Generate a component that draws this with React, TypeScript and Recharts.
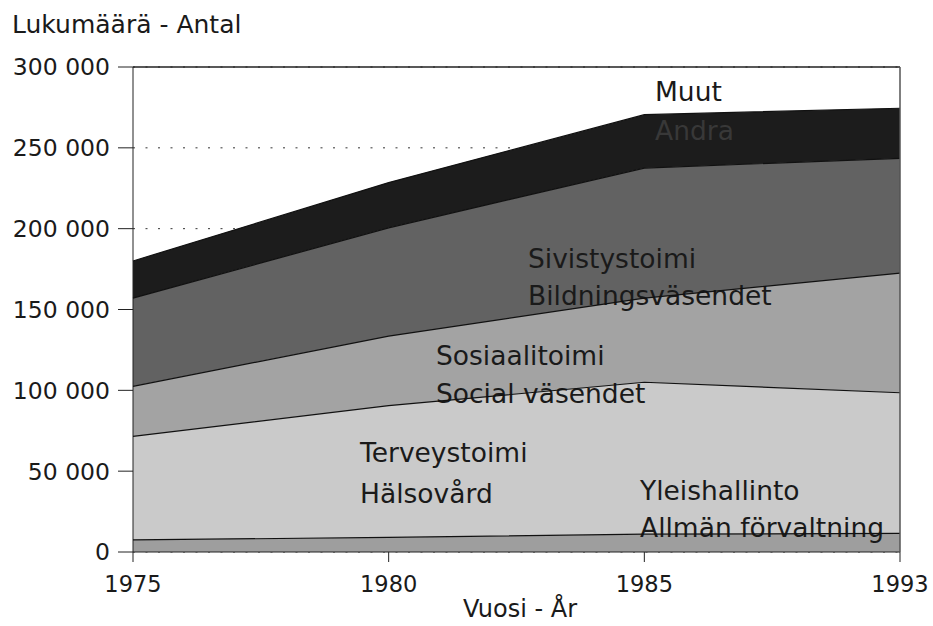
import { Area, AreaChart, CartesianGrid, ReferenceLine, XAxis, YAxis } from 'recharts';

const years = ['1975', '1980', '1985', '1993'];
const yleishallinto = [7500, 9000, 11000, 11500];
const terveystoimi = [64000, 81500, 94000, 87000];
const sosiaalitoimi = [31000, 43000, 52000, 74000];
const sivistystoimi = [54500, 67000, 80500, 71000];
const muut = [23000, 28000, 33000, 31000];
const yTicks = [0, 50000, 100000, 150000, 200000, 250000, 300000];

const series = [
  { key: 'yleishallinto', values: yleishallinto, fill: '#9e9e9e' },
  { key: 'terveystoimi', values: terveystoimi, fill: '#cacaca' },
  { key: 'sosiaalitoimi', values: sosiaalitoimi, fill: '#a3a3a3' },
  { key: 'sivistystoimi', values: sivistystoimi, fill: '#626262' },
  { key: 'muut', values: muut, fill: '#1c1c1c' },
];

const data = years.map((year, i) => {
  const row: Record<string, string | number> = { year };
  series.forEach((s) => {
    row[s.key] = s.values[i];
  });
  return row;
});

// labels sit between the fills and the outlines, like in the print
const labels = [
  { text: 'Muut', x: 655, y: 101, fill: '#1a1a1a' },
  { text: 'Andra', x: 655, y: 140, fill: '#383838' },
  { text: 'Sivistystoimi', x: 528, y: 268, fill: '#1a1a1a' },
  { text: 'Bildningsväsendet', x: 528, y: 305, fill: '#1a1a1a' },
  { text: 'Sosiaalitoimi', x: 436, y: 365, fill: '#1a1a1a' },
  { text: 'Social väsendet', x: 436, y: 403, fill: '#1a1a1a' },
  { text: 'Terveystoimi', x: 360, y: 462, fill: '#1a1a1a' },
  { text: 'Hälsovård', x: 360, y: 503, fill: '#1a1a1a' },
  { text: 'Yleishallinto', x: 640, y: 500, fill: '#1a1a1a' },
  { text: 'Allmän förvaltning', x: 640, y: 537, fill: '#1a1a1a' },
];

const font = '"DejaVu Sans", sans-serif';
const W = 933;
const H = 626;

const formatTick = (v: number) => (v === 0 ? '0' : `${v / 1000} 000`);

export default function App() {
  const layer = { position: 'absolute' as const, left: 0, top: 0 };

  return (
    <div style={{ position: 'absolute', left: 0, top: 0, width: W, height: H, background: '#fff', fontFamily: font }}>
      <div style={layer}>
        <AreaChart width={W} height={H} data={data} margin={{ top: 67, right: 33, bottom: 44, left: 0 }}>
          <CartesianGrid horizontal vertical={false} stroke="#333" strokeDasharray="2 10.5" />
          <XAxis
            dataKey="year"
            height={30}
            stroke="#222"
            tickSize={10}
            tickMargin={14}
            tick={{ fontSize: 22.5, fill: '#1a1a1a', fontFamily: font }}
          />
          <YAxis
            width={133}
            domain={[0, 300000]}
            ticks={yTicks}
            tickFormatter={formatTick}
            stroke="#222"
            tickSize={15}
            tickMargin={8}
            tick={{ fontSize: 23.5, fill: '#1a1a1a', fontFamily: font }}
          />
          {series.map((s) => (
            <Area
              key={s.key}
              dataKey={s.key}
              stackId="a"
              type="linear"
              fill={s.fill}
              fillOpacity={1}
              stroke="none"
              isAnimationActive={false}
            />
          ))}
        </AreaChart>
      </div>

      <svg width={W} height={H} style={layer}>
        <text x={12} y={33} fontSize={25} fill="#1a1a1a" fontFamily={font}>
          Lukumäärä - Antal
        </text>
        <text x={520} y={617} fontSize={24} fill="#1a1a1a" fontFamily={font} textAnchor="middle">
          Vuosi - År
        </text>
        {labels.map((l) => (
          <text key={l.text} x={l.x} y={l.y} fontSize={26.5} fill={l.fill} fontFamily={font}>
            {l.text}
          </text>
        ))}
      </svg>

      <div style={layer}>
        <AreaChart width={W} height={H} data={data} margin={{ top: 67, right: 33, bottom: 74, left: 133 }}>
          <XAxis dataKey="year" hide />
          <YAxis domain={[0, 300000]} hide />
          {series.map((s) => (
            <Area
              key={s.key}
              dataKey={s.key}
              stackId="a"
              type="linear"
              fill="none"
              stroke="#111"
              strokeWidth={1.2}
              isAnimationActive={false}
            />
          ))}
          <ReferenceLine y={300000} stroke="#222" strokeWidth={1.5} />
          <ReferenceLine x="1993" stroke="#555" strokeWidth={1.5} />
        </AreaChart>
      </div>
    </div>
  );
}
